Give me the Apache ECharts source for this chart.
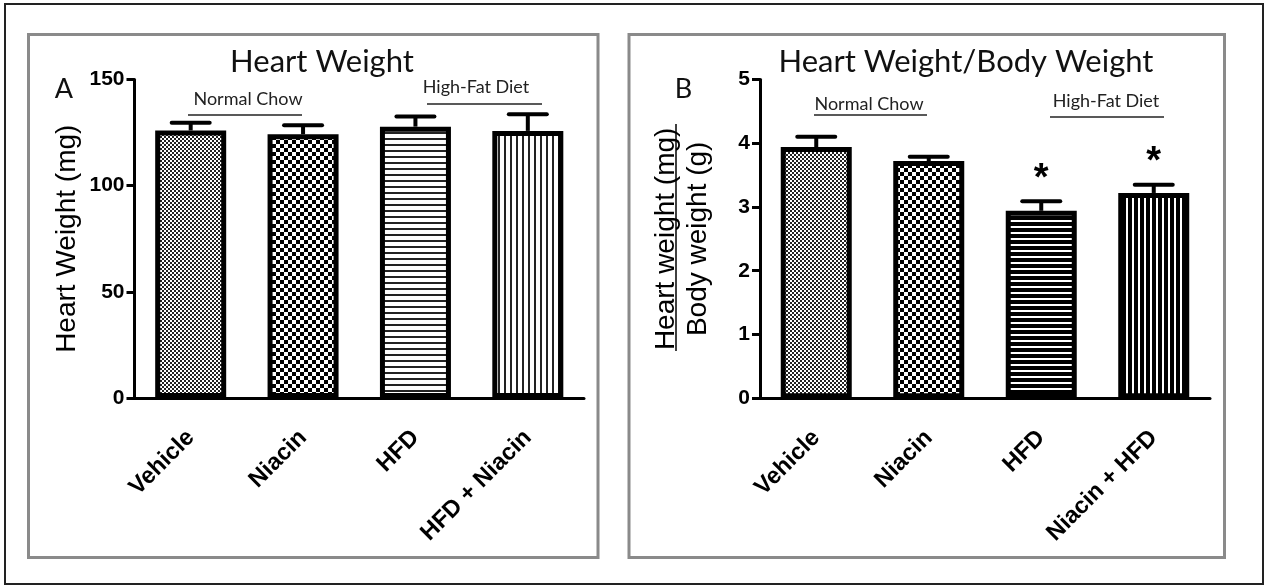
<!DOCTYPE html>
<html>
<head>
<meta charset="utf-8">
<script src="https://cdn.jsdelivr.net/npm/echarts@6/dist/echarts.min.js"></script>
<style>
  html, body { margin: 0; padding: 0; background: #fff; }
  #chart { width: 1267px; height: 588px; }
</style>
</head>
<body>
<div id="chart"></div>
<script>
// ---- data ----
const categoriesA = ['Vehicle', 'Niacin', 'HFD', 'HFD + Niacin'];
const heartWeight = [126.0, 124.2, 127.8, 125.8];      // mg
const heartWeightSem = [3.6, 4.3, 4.8, 7.8];

const categoriesB = ['Vehicle', 'Niacin', 'HFD', 'Niacin + HFD'];
const heartBodyRatio = [3.94, 3.72, 2.94, 3.22];       // mg / g
const heartBodyRatioSem = [0.16, 0.07, 0.15, 0.13];
const ratioSignificant = [false, false, true, true];

const axisA = { min: 0, max: 150, interval: 50 };
const axisB = { min: 0, max: 5, interval: 1 };

// ---- fill patterns ----
function pattern(w, h, draw) {
  const c = document.createElement('canvas');
  c.width = w; c.height = h;
  const ctx = c.getContext('2d');
  ctx.fillStyle = '#fff';
  ctx.fillRect(0, 0, w, h);
  ctx.fillStyle = '#000';
  draw(ctx);
  return { image: c, repeat: 'repeat' };
}
const checker = (s, col) => pattern(2 * s, 2 * s, ctx => {
  ctx.fillStyle = col;
  ctx.fillRect(0, 0, s, s); ctx.fillRect(s, s, s, s);
});
const hStripes = (period, thick, col) => pattern(8, period, ctx => {
  ctx.fillStyle = col; ctx.fillRect(0, 0, 8, thick);
});
const vStripes = (period, thick, col) => pattern(period, 8, ctx => {
  ctx.fillStyle = col; ctx.fillRect(0, 0, thick, 8);
});

const fillsA = [checker(2, '#222'), checker(4, '#000'), hStripes(6, 2, '#222'), vStripes(6, 2, '#222')];
const fillsB = [checker(2, '#222'), checker(4, '#000'), hStripes(6, 4, '#000'), vStripes(6, 4, '#000')];

// ---- shared styles ----
const AX_FONT = 'Liberation Sans';
const CAL_FONT = 'Lato';

function barData(values, fills) {
  return values.map((v, i) => ({
    value: v,
    itemStyle: { color: fills[i], borderColor: '#000', borderWidth: 5 }
  }));
}

function errorSeries(gridIdx, values, sems, stars) {
  return {
    type: 'custom',
    xAxisIndex: gridIdx, yAxisIndex: gridIdx,
    z: 5,
    data: values.map((v, i) => [i, v, sems[i], stars && stars[i] ? 1 : 0]),
    renderItem(params, api) {
      const i = api.value(0), v = api.value(1), s = api.value(2);
      const base = api.coord([i, v]);
      const hi = api.coord([i, v + s]);
      const half = 19;
      const children = [
        { type: 'line', shape: { x1: base[0], y1: base[1], x2: hi[0], y2: hi[1] },
          style: { stroke: '#000', lineWidth: 4 } },
        { type: 'line', shape: { x1: hi[0] - half, y1: hi[1], x2: hi[0] + half, y2: hi[1] },
          style: { stroke: '#000', lineWidth: 4, lineCap: 'round' } }
      ];
      if (api.value(3)) {
        children.push({ type: 'text', x: hi[0], y: hi[1] - 22,
          style: { text: '*', font: 'bold 38px "' + AX_FONT + '"', fill: '#000',
                   align: 'center', verticalAlign: 'middle' } });
      }
      return { type: 'group', children };
    }
  };
}

function xAxisFor(gridIdx, cats) {
  return {
    type: 'category', gridIndex: gridIdx, data: cats,
    axisLine: { lineStyle: { color: '#000', width: 3 } },
    axisTick: { alignWithLabel: true, length: 11, lineStyle: { color: '#000', width: 3 } },
    axisLabel: { rotate: 45, margin: 36, color: '#000', fontFamily: AX_FONT,
                 fontWeight: 'bold', fontSize: 23.5, interval: 0 },
    splitLine: { show: false }
  };
}

function yAxisFor(gridIdx, range, name, gap) {
  return {
    type: 'value', gridIndex: gridIdx, min: range.min, max: range.max, interval: range.interval,
    name, nameLocation: 'middle', nameGap: gap,
    nameTextStyle: { fontFamily: AX_FONT, fontSize: 28, color: '#000', lineHeight: 32 },
    axisLine: { show: true, lineStyle: { color: '#000', width: 3 } },
    axisTick: { show: true, length: 8, lineStyle: { color: '#000', width: 3 } },
    axisLabel: { margin: 10, color: '#000', fontFamily: AX_FONT, fontWeight: 'bold', fontSize: 21 },
    splitLine: { show: false }
  };
}

function groupLabel(text, cx, ty, x1, x2, ly) {
  return [
    { type: 'text', x: cx, y: ty,
      style: { text, font: '18px "' + CAL_FONT + '"', fill: '#222', align: 'center', verticalAlign: 'middle' } },
    { type: 'line', shape: { x1, y1: ly, x2, y2: ly }, style: { stroke: '#222', lineWidth: 1.5 } }
  ];
}

const chart = echarts.init(document.getElementById('chart'), null, { renderer: 'canvas' });

chart.setOption({
  animation: false,
  backgroundColor: '#fff',
  grid: [
    { left: 134.5, top: 79.5, width: 449.5, height: 318.5, containLabel: false },
    { left: 760, top: 79.5, width: 450, height: 318.7, containLabel: false }
  ],
  xAxis: [xAxisFor(0, categoriesA), xAxisFor(1, categoriesB)],
  yAxis: [
    yAxisFor(0, axisA, 'Heart Weight (mg)', 51),
    yAxisFor(1, axisB, 'Heart weight (mg)\nBody weight (g)', 46)
  ],
  series: [
    { type: 'bar', xAxisIndex: 0, yAxisIndex: 0, barWidth: 71, z: 3,
      data: barData(heartWeight, fillsA) },
    errorSeries(0, heartWeight, heartWeightSem, null),
    { type: 'bar', xAxisIndex: 1, yAxisIndex: 1, barWidth: 71, z: 3,
      data: barData(heartBodyRatio, fillsB) },
    errorSeries(1, heartBodyRatio, heartBodyRatioSem, ratioSignificant)
  ],
  graphic: [
    // outer frame
    { type: 'rect', shape: { x: 5, y: 4, width: 1258, height: 580 },
      style: { fill: 'none', stroke: '#222', lineWidth: 2 }, silent: true },
    // panel frames
    { type: 'rect', shape: { x: 28.5, y: 34.5, width: 569.5, height: 523 },
      style: { fill: 'none', stroke: '#8a8a8a', lineWidth: 3 }, silent: true },
    { type: 'rect', shape: { x: 629, y: 34.5, width: 595.5, height: 523 },
      style: { fill: 'none', stroke: '#8a8a8a', lineWidth: 3 }, silent: true },
    // titles and panel letters
    { type: 'text', x: 322, y: 62,
      style: { text: 'Heart Weight', font: '31px "' + CAL_FONT + '"', fill: '#111', align: 'center', verticalAlign: 'middle' } },
    { type: 'text', x: 966, y: 62,
      style: { text: 'Heart Weight/Body Weight', font: '31px "' + CAL_FONT + '"', fill: '#111', align: 'center', verticalAlign: 'middle' } },
    { type: 'text', x: 64, y: 89,
      style: { text: 'A', font: '27px "' + CAL_FONT + '"', fill: '#111', align: 'center', verticalAlign: 'middle' } },
    { type: 'text', x: 683.5, y: 89,
      style: { text: 'B', font: '27px "' + CAL_FONT + '"', fill: '#111', align: 'center', verticalAlign: 'middle' } },
    // diet group annotations
    ...groupLabel('Normal Chow', 248, 99.5, 188, 302, 115),
    ...groupLabel('High-Fat Diet', 476, 87, 427, 542, 104),
    ...groupLabel('Normal Chow', 869, 104, 814, 927, 115),
    ...groupLabel('High-Fat Diet', 1106, 101, 1050, 1164, 117),
    // underline of the ratio numerator
    { type: 'line', shape: { x1: 676, y1: 124, x2: 676, y2: 351 },
      style: { stroke: '#000', lineWidth: 1.5 }, silent: true }
  ]
});
</script>
</body>
</html>
